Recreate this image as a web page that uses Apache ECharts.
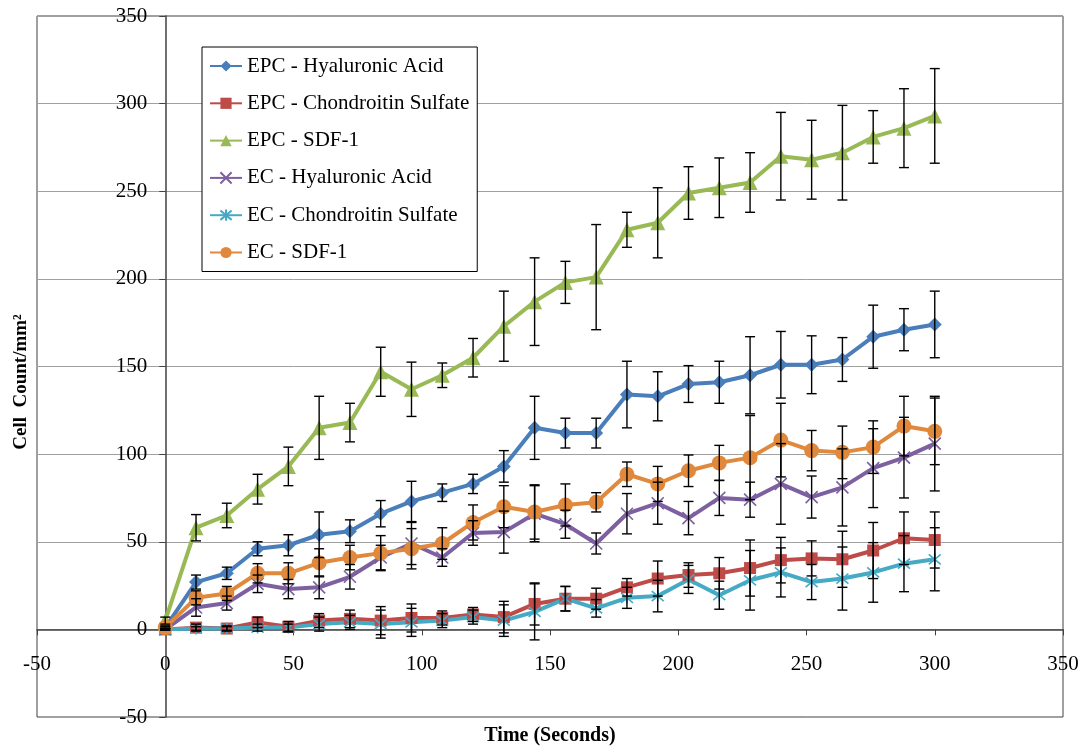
<!DOCTYPE html>
<html>
<head>
<meta charset="utf-8">
<script src="https://cdn.jsdelivr.net/npm/echarts@6/dist/echarts.min.js"></script>
<style>
  html, body { margin: 0; padding: 0; background: #fff; }
  #chart { width: 1088px; height: 748px; }
</style>
</head>
<body>
<div id="chart"></div>
<script>
// Sampling times (s)
const timeSeconds = [0, 12, 24, 36, 48, 60, 72, 84, 96, 108, 120, 132, 144, 156, 168, 180, 192, 204, 216, 228, 240, 252, 264, 276, 288, 300];

// Adhered cell counts (cells/mm²) and their standard errors
const epcHyaluronic = [1, 27, 32, 46, 48, 54, 56, 66, 73, 78, 83, 93, 115, 112, 112, 134, 133, 140, 141, 145, 151, 151, 154, 167, 171, 174];
const epcHyaluronicErr = [1, 4, 3.5, 4, 6, 13, 6.5, 7.5, 11.5, 5, 5.5, 9, 18, 8.5, 8.5, 19, 14, 10.5, 12, 22, 19, 16.5, 12.5, 18, 12, 19];

const epcChondroitin = [0, 1, 0.5, 4, 1.5, 5, 6, 5, 6.5, 6.5, 8.5, 7, 14.5, 17.5, 17.5, 24, 29, 31, 32, 35, 39.5, 40.5, 40, 45, 52, 51];
const epcChondroitinErr = [0.5, 2, 1.5, 3, 3, 4, 5, 8, 8, 4, 4, 9, 12, 7, 6, 5, 10, 7, 9, 16, 13, 10, 16, 16, 15, 16];

const epcSdf1 = [5, 58, 65, 80, 93, 115, 118, 147, 137, 145, 155, 173, 187, 198, 201, 228, 232, 249, 252, 255, 270, 268, 272, 281, 286, 293];
const epcSdf1Err = [2, 7.5, 7, 8.5, 11, 18, 11, 14, 15.5, 7, 11, 20, 25, 12, 30, 10, 20, 15, 17, 17, 25, 22.5, 27, 15, 22.5, 27];

const ecHyaluronic = [0, 12.5, 15, 26, 23, 24, 30, 41, 49, 41, 55, 55.5, 66, 60, 49, 66, 72, 63.5, 75, 74, 83, 75.5, 81, 92, 98, 106];
const ecHyaluronicErr = [0.5, 5, 4, 5, 5.5, 6.5, 7, 7, 12, 5, 7, 12, 16, 8, 6, 11.5, 12, 9.5, 10, 10, 23, 12, 22, 22.5, 23, 27];

const ecChondroitin = [0, 0.5, 0.5, 1, 1, 3, 4, 3, 4, 5, 7, 5, 10, 17.5, 12, 18, 19, 28.5, 19.5, 28, 32.5, 27, 29, 32.5, 37.5, 40];
const ecChondroitinErr = [0.5, 1, 1, 2, 2, 4, 4, 8, 8, 4, 4, 9, 16, 7, 5, 6, 9, 8, 8, 17, 14, 10, 18, 17, 16, 18];

const ecSdf1 = [1, 18, 20.5, 32, 32, 38, 41, 43.5, 46, 49, 61, 70, 67, 71, 72.5, 88.5, 83, 90.5, 95, 98, 108, 102, 101, 104, 116, 113];
const ecSdf1Err = [0.5, 4, 4, 5.5, 6, 8, 7, 10, 11.5, 9, 10, 12, 15.5, 12, 5.5, 7, 10, 9, 10, 24, 21, 11.5, 15, 15, 17, 19];

const seriesNames = [
  'EPC - Hyaluronic Acid',
  'EPC - Chondroitin Sulfate',
  'EPC - SDF-1',
  'EC - Hyaluronic Acid',
  'EC - Chondroitin Sulfate',
  'EC - SDF-1'
];
const seriesValues = [epcHyaluronic, epcChondroitin, epcSdf1, ecHyaluronic, ecChondroitin, ecSdf1];
const seriesErrors = [epcHyaluronicErr, epcChondroitinErr, epcSdf1Err, ecHyaluronicErr, ecChondroitinErr, ecSdf1Err];

const axisTicks = { min: -50, max: 350, interval: 50 };

const palette = ['#4A7EBB', '#BE4B48', '#98B954', '#7D60A0', '#46AAC5', '#E0883C'];
const markers = [
  { symbol: 'diamond', size: 14, stroke: 0 },
  { symbol: 'rect', size: 12, stroke: 0 },
  { symbol: 'triangle', size: 15, stroke: 0 },
  { symbol: 'path://M0,0L10,10M10,0L0,10', size: 12, stroke: 1.6 },
  { symbol: 'path://M0,0L10,10M10,0L0,10M5,-1L5,11', size: 12, stroke: 1.6 },
  { symbol: 'circle', size: 15, stroke: 0 }
];

const serif = '"Liberation Serif", "Times New Roman", serif';

// Plot box in page pixels; the axes cross at (0, 0) inside it
const plotBox = { left: 37, right: 25, top: 16, bottom: 31, width: 1088 - 37 - 25, height: 748 - 16 - 31 };
const span = axisTicks.max - axisTicks.min;
const yAxisShift = -plotBox.width * (0 - axisTicks.min) / span;
const xAxisShift = -plotBox.height * (0 - axisTicks.min) / span;

function lineSeries(i) {
  const m = markers[i];
  return {
    type: 'line',
    name: seriesNames[i],
    data: timeSeconds.map((t, k) => [t, seriesValues[i][k]]),
    symbol: m.symbol,
    symbolSize: m.size,
    showAllSymbol: true,
    lineStyle: { color: palette[i], width: 4 },
    itemStyle: { color: palette[i], borderColor: palette[i], borderWidth: m.stroke },
    z: 2,
    animation: false
  };
}

// Vertical ± bars with end caps, placed through the axes' own scales
function errorSeries(i) {
  return {
    type: 'custom',
    name: seriesNames[i] + ' SE',
    data: timeSeconds.map((t, k) => [t, seriesValues[i][k] - seriesErrors[i][k], seriesValues[i][k] + seriesErrors[i][k]]),
    encode: { x: 0, y: [1, 2] },
    renderItem(params, api) {
      const lo = api.coord([api.value(0), api.value(1)]);
      const hi = api.coord([api.value(0), api.value(2)]);
      const w = 5;
      const style = { stroke: '#000', lineWidth: 1.4 };
      return {
        type: 'group',
        children: [
          { type: 'line', shape: { x1: hi[0], y1: hi[1], x2: lo[0], y2: lo[1] }, style },
          { type: 'line', shape: { x1: hi[0] - w, y1: hi[1], x2: hi[0] + w, y2: hi[1] }, style },
          { type: 'line', shape: { x1: lo[0] - w, y1: lo[1], x2: lo[0] + w, y2: lo[1] }, style }
        ]
      };
    },
    z: 3,
    silent: true,
    animation: false
  };
}

const series = [];
for (let i = 0; i < seriesNames.length; i++) series.push(lineSeries(i));
for (let i = 0; i < seriesNames.length; i++) series.push(errorSeries(i));

const chart = echarts.init(document.getElementById('chart'), null, { renderer: 'canvas' });
chart.setOption({
  backgroundColor: '#fff',
  animation: false,
  grid: {
    left: plotBox.left, right: plotBox.right, top: plotBox.top, bottom: plotBox.bottom,
    containLabel: false,
    outerBoundsMode: 'none',
    show: true, borderColor: '#404040', borderWidth: 1
  },
  legend: {
    data: seriesNames,
    orient: 'vertical',
    left: 202, top: 47,
    padding: [8, 8, 8, 7],
    itemGap: 15.3,
    itemWidth: 32,
    itemHeight: 14,
    backgroundColor: '#fff',
    borderColor: '#000',
    borderWidth: 1,
    borderRadius: 0,
    textStyle: { fontFamily: serif, fontSize: 21, color: '#000', lineHeight: 22 }
  },
  xAxis: {
    type: 'value',
    position: 'bottom',
    offset: xAxisShift,
    min: axisTicks.min, max: axisTicks.max, interval: axisTicks.interval,
    axisLine: { onZero: false, lineStyle: { color: '#404040', width: 1.5 } },
    axisTick: { show: true, inside: false, length: 6, lineStyle: { color: '#404040' } },
    axisLabel: { fontFamily: serif, fontSize: 21, color: '#000', margin: 25 },
    splitLine: { show: false }
  },
  yAxis: {
    type: 'value',
    position: 'left',
    offset: yAxisShift,
    min: axisTicks.min, max: axisTicks.max, interval: axisTicks.interval,
    axisLine: { onZero: false, lineStyle: { color: '#404040', width: 1.5 } },
    axisTick: { show: true, inside: false, length: 6, lineStyle: { color: '#404040' } },
    axisLabel: { fontFamily: serif, fontSize: 21, color: '#000', margin: 18 },
    splitLine: { show: true, lineStyle: { color: '#a0a0a0', width: 1 } }
  },
  graphic: [
    {
      type: 'text', x: 21, y: 382, rotation: Math.PI / 2,
      style: { text: 'Cell  Count/mm²', font: 'bold 19px ' + serif, fill: '#000', textAlign: 'center', textVerticalAlign: 'middle' }
    },
    {
      type: 'text', x: 550, y: 736,
      style: { text: 'Time (Seconds)', font: 'bold 20px ' + serif, fill: '#000', textAlign: 'center', textVerticalAlign: 'middle' }
    }
  ],
  series
});
</script>
</body>
</html>
